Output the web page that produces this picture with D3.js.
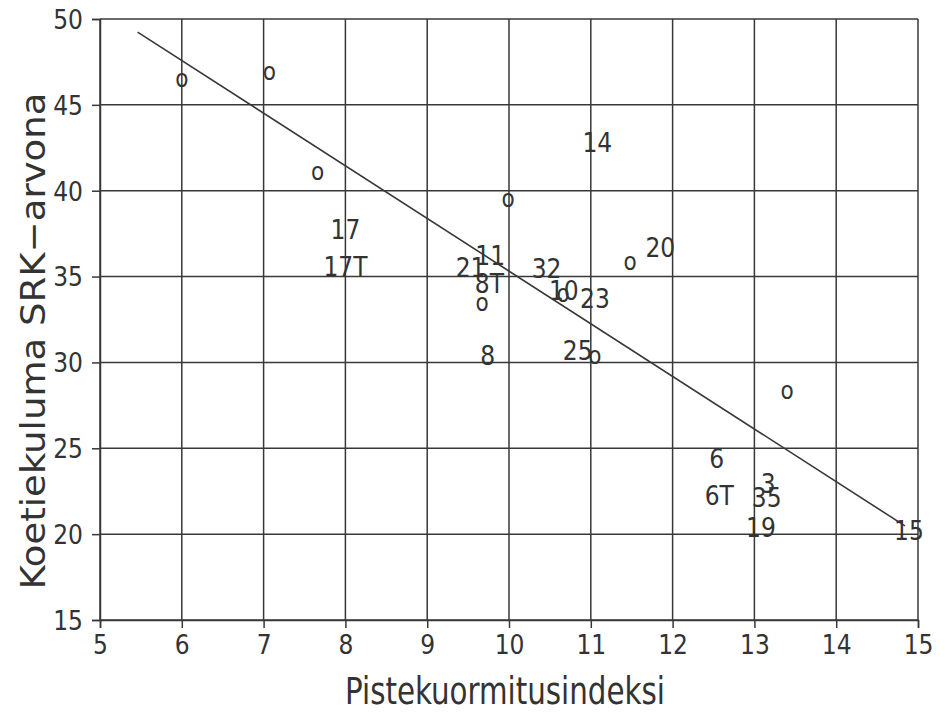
<!DOCTYPE html>
<html>
<head>
<meta charset="utf-8">
<script src="https://cdn.jsdelivr.net/npm/d3@7"></script>
<style>
  html, body { margin: 0; padding: 0; background: #fff; }
  svg text { font-family: "Liberation Sans Narrow", "DejaVu Sans Condensed", "Liberation Sans", sans-serif; fill: #333; }
</style>
</head>
<body>
<svg id="chart" width="945" height="714"></svg>
<script>
// Axis ticks
const xTicks = [5, 6, 7, 8, 9, 10, 11, 12, 13, 14, 15];
const yTicks = [15, 20, 25, 30, 35, 40, 45, 50];

// Observations plotted with the plain "o" symbol
const markX = [6.0, 7.07, 7.66, 9.99, 9.67, 10.66, 11.05, 11.48, 13.4];
const markY = [46.4, 46.8, 41.0, 39.4, 33.35, 33.9, 30.3, 35.75, 28.25];

// Observations plotted with their test number
const labelText = ["14", "17", "17T", "20", "11", "21", "8T", "32", "10", "23", "8", "25", "6", "6T", "3", "35", "19", "15"];
const labelX = [11.08, 8.0, 8.0, 11.85, 9.77, 9.53, 9.76, 10.46, 10.67, 11.05, 9.74, 10.84, 12.54, 12.57, 13.17, 13.15, 13.08, 14.89];
const labelY = [42.8, 37.75, 35.58, 36.7, 36.2, 35.5, 34.6, 35.45, 34.2, 33.7, 30.4, 30.7, 24.4, 22.27, 22.96, 22.1, 20.4, 20.23];

// Fitted regression line  y = a + b*x, drawn over the span of the data
const fitIntercept = 65.98;
const fitSlope = -3.066;
const fitRange = [5.46, 14.84];

const svg = d3.select("#chart");
const frame = { left: 100, right: 918, top: 19, bottom: 620 };
const ink = "#383838";

const x = d3.scaleLinear().domain([5, 15]).range([frame.left, frame.right]);
const y = d3.scaleLinear().domain([15, 50]).range([frame.bottom, frame.top]);

// Grid lines
const grid = svg.append("g").attr("stroke", ink).attr("stroke-width", 1.5);
grid.selectAll("line.v").data(xTicks).join("line")
  .attr("class", "v")
  .attr("x1", d => x(d)).attr("x2", d => x(d))
  .attr("y1", frame.top).attr("y2", frame.bottom);
grid.selectAll("line.h").data(yTicks).join("line")
  .attr("class", "h")
  .attr("x1", frame.left).attr("x2", frame.right)
  .attr("y1", d => y(d)).attr("y2", d => y(d));

// Axes
const xAxis = svg.append("g")
  .attr("transform", `translate(0,${frame.bottom})`)
  .call(d3.axisBottom(x).tickValues(xTicks).tickSize(8).tickPadding(6).tickFormat(d3.format("d")));
const yAxis = svg.append("g")
  .attr("transform", `translate(${frame.left},0)`)
  .call(d3.axisLeft(y).tickValues(yTicks).tickSize(8).tickPadding(9).tickFormat(d3.format("d")));

[xAxis, yAxis].forEach(g => {
  g.select(".domain").attr("stroke", ink).attr("stroke-width", 1.5);
  g.selectAll(".tick line").attr("stroke", ink).attr("stroke-width", 1.5);
  g.selectAll(".tick text").attr("font-size", 26).attr("fill", "#333")
    .style("font-family", "'Liberation Sans Narrow', 'DejaVu Sans Condensed', sans-serif");
});
xAxis.selectAll(".tick text").attr("dy", "0.75em");
yAxis.selectAll(".tick text").attr("dy", "0.36em");

// Regression line
svg.append("line")
  .attr("x1", x(fitRange[0])).attr("y1", y(fitIntercept + fitSlope * fitRange[0]))
  .attr("x2", x(fitRange[1])).attr("y2", y(fitIntercept + fitSlope * fitRange[1]))
  .attr("stroke", ink).attr("stroke-width", 1.6);

// "o" symbols
svg.append("g").selectAll("text").data(markX).join("text")
  .attr("x", (d, i) => x(d))
  .attr("y", (d, i) => y(markY[i]))
  .attr("text-anchor", "middle")
  .attr("dy", "0.27em")
  .attr("font-size", 24)
  .text("o");

// Numbered observations
svg.append("g").selectAll("text").data(labelText).join("text")
  .attr("x", (d, i) => x(labelX[i]))
  .attr("y", (d, i) => y(labelY[i]))
  .attr("text-anchor", "middle")
  .attr("dy", "0.36em")
  .attr("font-size", 26)
  .text(d => d);

// Axis titles
svg.append("text")
  .attr("x", 505).attr("y", 704)
  .attr("text-anchor", "middle")
  .attr("font-size", 37)
  .attr("textLength", 320).attr("lengthAdjust", "spacingAndGlyphs")
  .text("Pistekuormitusindeksi");

svg.append("text")
  .attr("transform", "translate(45,341) rotate(-90)")
  .attr("text-anchor", "middle")
  .attr("font-size", 34)
  .attr("textLength", 497).attr("lengthAdjust", "spacingAndGlyphs")
  .text("Koetiekuluma SRK\u2212arvona");
</script>
</body>
</html>
